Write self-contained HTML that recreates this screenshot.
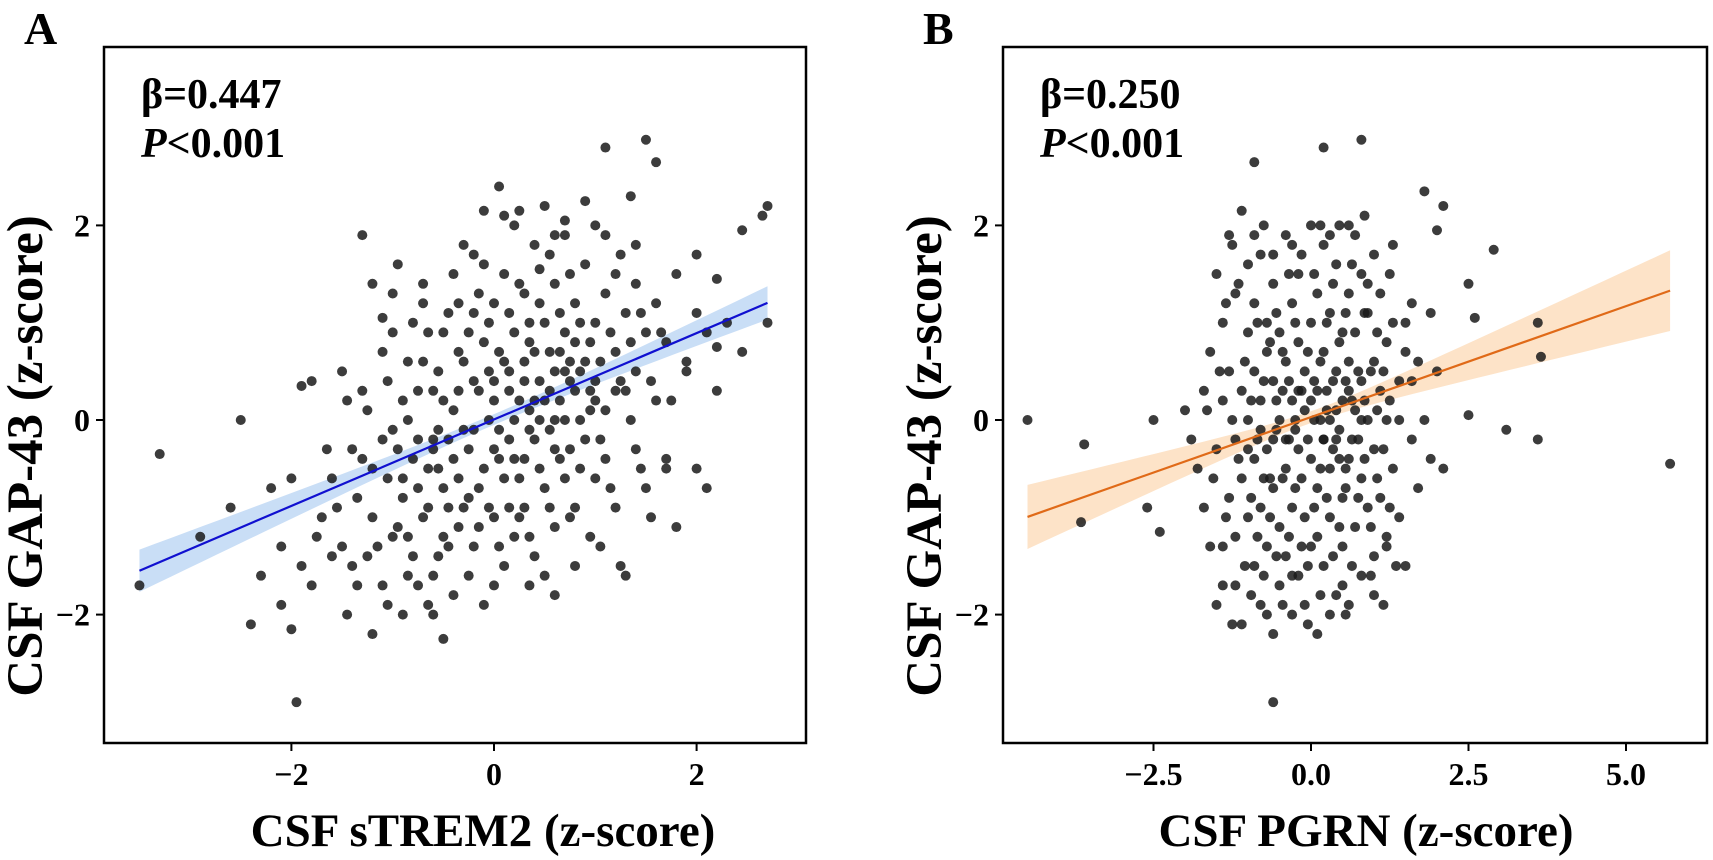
<!DOCTYPE html>
<html><head><meta charset="utf-8"><style>
html,body{margin:0;padding:0;background:#fff;}
svg{display:block;font-family:"Liberation Serif",serif;}
</style></head><body>
<svg id="chart" width="1713" height="860" viewBox="0 0 1713 860" xmlns="http://www.w3.org/2000/svg">
<g id="pa"></g>
<g id="pb"></g>
</svg>
<script>
const aX=[-3.5,-3.3,-2.9,-2.5,-2.6,-2.4,-2.0,-1.95,1.1,1.5,1.6,2.7,2.65,2.7,1.8,2.1,1.3,-0.5,-1.2,0.05,-0.1,2.45,
-1.9,-1.8,-1.7,-1.6,-1.5,-1.5,-1.4,-1.3,-1.3,-1.2,-1.2,-1.2,-1.1,-1.1,-1.0,-1.0,-1.0,-0.9,-0.9,-0.9,-0.8,-0.8,-0.8,-0.7,-0.7,-0.7,-0.6,-0.6,-0.6,-0.5,-0.5,-0.5,-0.4,-0.4,-0.4,-0.4,-0.3,-0.3,-0.3,-0.2,-0.2,-0.2,-0.2,-0.1,-0.1,-0.1,-0.1,0.0,0.0,0.0,0.0,0.1,0.1,0.1,0.1,0.2,0.2,0.2,0.2,0.3,0.3,0.3,0.3,0.4,0.4,0.4,0.4,0.5,0.5,0.5,0.5,0.6,0.6,0.6,0.6,0.7,0.7,0.7,0.7,0.8,0.8,0.8,0.8,0.9,0.9,0.9,1.0,1.0,1.0,1.0,1.1,1.1,1.1,1.2,1.2,1.2,1.3,1.3,1.4,1.4,1.4,1.5,1.5,1.6,1.6,1.7,1.7,1.8,1.9,2.0,2.0,2.1,2.2,2.3,
-0.85,-0.65,-0.45,-0.35,-0.15,0.05,0.15,0.25,0.35,0.45,0.55,0.65,0.75,0.85,0.95,-1.05,-0.75,-0.55,-0.25,-0.05,0.15,0.35,0.55,0.75,
-1.6,-2.1,-2.2,-1.9,-1.8,-2.0,-2.3,-2.1,-1.4,-1.45,-0.85,-0.65,0.35,0.6,1.05,1.25,1.55,1.7,2.0,2.2,2.2,-0.95,-1.1,-0.35,0.45,0.9,1.35,0.25,0.7,1.9,2.45];
const aY=[-1.7,-0.35,-1.2,0.0,-0.9,-2.1,-2.15,-2.9,2.8,2.88,2.65,2.2,2.1,1.0,-1.1,-0.7,-1.6,-2.25,-2.2,2.4,2.15,1.95,
-1.5,-1.7,-1.0,-0.6,0.5,-1.3,-0.3,1.9,0.3,-0.5,-1.0,1.4,-1.7,0.7,-0.1,-1.2,1.3,0.2,-0.8,-2.0,1.0,-0.4,-1.4,0.6,-1.0,1.2,-0.2,0.3,-1.6,0.9,-0.7,-1.2,1.5,0.1,-0.4,-1.8,0.6,-0.9,1.8,-0.1,0.4,-1.3,1.1,0.8,-0.5,-1.9,1.6,0.2,-0.3,1.2,-1.0,0.6,-0.6,1.5,-1.5,0.0,0.9,-1.2,2.0,0.4,-0.4,1.3,-0.9,0.7,-0.2,1.8,-1.4,0.2,1.0,-0.7,2.2,0.5,-0.3,1.4,-1.1,0.0,0.9,-0.6,1.9,0.3,1.2,-0.9,-1.5,0.6,-0.2,1.6,0.4,1.0,-0.6,2.0,0.1,1.3,-0.4,0.7,1.5,-0.9,0.3,1.1,0.5,-0.3,1.8,0.9,-0.7,1.2,0.2,0.8,-0.4,1.5,0.6,1.7,-0.5,0.9,0.3,1.0,
0.0,-0.5,-0.9,0.3,-0.7,-0.1,0.3,-0.6,0.1,0.4,-0.1,0.2,0.4,0.0,0.3,-0.6,-0.2,-0.1,-0.3,0.5,-0.2,0.8,0.7,-0.3,
-1.4,-1.3,-0.7,0.35,0.4,-0.6,-1.6,-1.9,-1.5,-2.0,-1.6,-1.9,-1.7,-1.8,-1.3,-1.5,-1.0,-0.5,1.1,1.45,0.75,1.6,1.05,1.2,1.55,2.25,2.3,2.15,2.05,0.5,0.7];
const aX2=[-1.35,-1.25,-1.15,-1.05,-0.95,-0.95,-0.85,-0.85,-0.75,-0.75,-0.75,-0.65,-0.65,-0.55,-0.55,-0.55,-0.45,-0.45,-0.45,-0.35,-0.35,-0.35,-0.25,-0.25,-0.25,-0.15,-0.15,-0.15,-0.05,-0.05,-0.05,0.05,0.05,0.05,0.15,0.15,0.15,0.25,0.25,0.25,0.35,0.35,0.35,0.45,0.45,0.45,0.55,0.55,0.55,0.65,0.65,0.65,0.75,0.75,0.75,0.85,0.85,0.85,0.95,0.95,0.95,1.05,1.05,1.15,1.15,1.25,1.25,1.35,1.35,1.45,1.45,1.55,1.65,1.75,-1.55,-1.45,-1.35,-1.65,-1.75,-1.25,-1.05,-0.6,0.0,0.5,-1.0,-0.7,-0.2,0.1,0.6,1.1,1.4,-0.9,-0.5,0.0,0.2,0.4,0.6,0.8,-0.3,-0.6,0.3,0.7,1.0,1.2,-1.1,-1.3];
const aY2=[-0.8,0.1,-1.3,0.4,-0.3,-1.1,0.6,-1.2,0.3,-0.7,-1.7,0.9,-0.9,0.5,-0.5,-1.4,1.1,-0.2,-1.3,0.7,-0.6,-1.1,0.9,-0.8,-1.6,0.3,1.3,-1.1,0.0,-0.9,1.0,0.7,-0.4,-1.3,1.1,-0.9,0.5,0.2,1.4,-1.0,-0.1,1.0,-1.2,0.0,-0.5,1.2,0.3,-0.9,1.7,0.7,-0.4,1.1,0.6,-1.0,1.5,0.5,-0.5,1.0,0.1,0.8,-1.2,0.6,-0.2,0.9,-0.7,0.4,1.7,0.0,0.8,1.1,-0.5,0.4,0.9,0.2,-0.9,0.2,-1.7,-0.3,-1.2,-1.4,-1.9,-2.0,-1.7,-1.6,0.9,1.4,1.7,2.1,1.9,1.9,1.4,-0.6,0.2,0.4,-0.4,0.2,0.0,0.8,-0.1,-0.3,0.6,0.5,0.2,0.3,-0.2,-0.4];
const aFitX=[-3.5,2.7];
const aSlope=0.444, aIntercept=0.005;
const aTicksX=[-2,0,2], aTickLabelsX=["\u22122","0","2"];
const yTicks=[-2,0,2], yTickLabels=["\u22122","0","2"];

const bX=[-4.5,-3.6,-3.65,-2.5,-2.4,-2.6,5.7,3.6,3.65,3.6,3.1,2.5,2.6,2.9,2.5,-0.9,0.2,0.8,-0.6,1.8,2.1,2.0,-1.1,
-1.6,-1.6,-1.5,-1.5,-1.4,-1.4,-1.4,-1.3,-1.3,-1.3,-1.2,-1.2,-1.2,-1.1,-1.1,-1.1,-1.0,-1.0,-1.0,-1.0,-0.9,-0.9,-0.9,-0.9,-0.8,-0.8,-0.8,-0.8,-0.7,-0.7,-0.7,-0.7,-0.6,-0.6,-0.6,-0.6,-0.5,-0.5,-0.5,-0.5,-0.4,-0.4,-0.4,-0.4,-0.3,-0.3,-0.3,-0.3,-0.2,-0.2,-0.2,-0.2,-0.1,-0.1,-0.1,-0.1,0.0,0.0,0.0,0.0,0.1,0.1,0.1,0.1,0.2,0.2,0.2,0.2,0.3,0.3,0.3,0.3,0.4,0.4,0.4,0.4,0.5,0.5,0.5,0.5,0.6,0.6,0.6,0.6,0.7,0.7,0.7,0.7,0.8,0.8,0.8,0.8,0.9,0.9,0.9,1.0,1.0,1.0,1.0,1.1,1.1,1.1,1.2,1.2,1.2,1.3,1.3,1.3,1.4,1.4,1.5,1.5,1.6,1.6,1.7,1.7,1.8,1.9,1.9,2.0,2.1,
-1.7,-1.7,-1.8,-1.9,-2.0,-1.5,-1.25,-0.95,-0.75,-0.55,-0.35,-0.15,0.05,0.25,0.45,0.65,0.85,1.05,-0.45,-0.25,0.15,0.35,0.55,0.75,-0.65,-0.85,1.15,0.95,1.35,0.55,0.15,0.45,0.85,1.25,-1.25,-0.05];
const bY=[0.0,-0.25,-1.05,0.0,-1.15,-0.9,-0.45,1.0,0.65,-0.2,-0.1,0.05,1.05,1.75,1.4,2.65,2.8,2.88,-2.9,2.35,2.2,1.95,2.15,
0.7,-1.3,-0.3,1.5,0.2,-1.7,1.0,-0.8,1.9,0.5,-0.2,-1.2,1.3,0.3,-2.1,-0.6,0.9,-1.0,1.6,0.0,-1.5,0.5,-0.4,1.2,-0.9,0.2,-1.9,1.7,0.7,-0.3,-1.3,1.0,-0.7,0.4,-2.2,1.4,0.0,-1.1,0.9,-1.7,0.6,-0.5,1.9,-1.4,0.2,-0.9,1.2,-2.0,0.8,-0.3,-1.6,1.5,0.1,-1.0,0.5,-1.9,-0.4,1.0,2.0,-1.3,0.3,-0.7,1.3,-2.2,-0.2,0.7,-1.5,1.8,0.0,-1.0,1.1,-0.5,0.5,-1.8,1.6,-0.2,0.9,-0.8,0.2,-1.3,1.3,-0.4,0.6,-1.9,0.1,1.9,-1.1,0.9,-0.6,0.4,1.5,-1.6,0.0,-0.9,1.1,0.6,-1.4,1.7,-0.3,0.3,-0.8,1.3,0.8,-1.2,0.0,-0.5,1.0,1.8,0.4,-1.0,0.7,-1.5,-0.2,1.2,0.6,-0.7,0.0,1.1,-0.4,0.5,-0.5,
-0.9,0.3,-0.5,-0.2,0.1,-1.9,-2.1,-1.8,2.0,-0.1,-0.2,-0.6,0.4,0.3,-0.1,0.2,0.2,0.1,0.3,-0.1,0.0,-0.3,-0.5,-0.2,-0.6,-0.2,-1.9,-1.6,-1.5,-2.0,2.0,2.0,2.1,1.5,1.8,-2.1];
const bX2=[-1.25,-1.15,-1.05,-1.05,-0.95,-0.95,-0.85,-0.85,-0.75,-0.75,-0.75,-0.65,-0.65,-0.55,-0.55,-0.55,-0.45,-0.45,-0.45,-0.35,-0.35,-0.35,-0.25,-0.25,-0.25,-0.15,-0.15,-0.15,-0.05,-0.05,-0.05,0.05,0.05,0.05,0.15,0.15,0.15,0.25,0.25,0.25,0.35,0.35,0.35,0.45,0.45,0.45,0.55,0.55,0.55,0.65,0.65,0.65,0.75,0.75,0.85,0.85,0.95,0.95,1.05,1.05,1.15,1.15,1.25,1.25,-1.35,-1.45,-1.55,-1.65,-1.35,-1.15,-0.9,-0.6,-0.3,0.3,0.6,0.9,1.4,1.5,1.6,-0.2,0.0,0.2,0.4,0.6,0.8,-0.4,-0.6,-0.8,-1.0,0.1,-0.3,0.5,-0.7,0.3,-1.2,1.0,-1.4,1.2];
const bY2=[0.0,-0.4,0.6,-1.5,0.2,-0.8,1.0,-1.2,0.4,-0.6,-1.6,0.8,-1.0,0.2,-1.4,1.1,-0.6,0.7,-1.9,0.4,-1.2,1.5,0.0,-0.7,1.0,0.3,-1.3,1.7,-0.2,0.7,-1.5,0.0,-0.9,1.5,0.6,-0.5,-1.8,1.0,-0.8,0.1,0.4,-1.4,1.4,-0.4,0.8,-1.1,0.4,1.1,-0.7,-0.2,1.6,-1.5,0.5,-0.8,1.1,-0.4,0.5,-1.1,0.9,-0.6,0.5,-0.3,0.2,-0.9,-1.0,0.5,-0.6,0.1,1.2,1.4,1.9,1.7,1.8,1.9,2.0,1.4,0.0,1.0,0.4,0.3,0.2,-0.2,0.1,0.3,0.0,-0.2,-0.2,-0.1,-0.3,-1.2,-1.6,-1.7,-2.0,-2.0,-1.7,-1.8,-1.3,-1.3];
const bFitX=[-4.5,5.7];
const bSlope=0.228, bIntercept=0.03;
const bTicksX=[-2.5,0,2.5,5], bTickLabelsX=["\u22122.5","0.0","2.5","5.0"];

const NS="http://www.w3.org/2000/svg";
function el(tag,attrs,parent,txt){const e=document.createElementNS(NS,tag);for(const k in attrs)e.setAttribute(k,attrs[k]);if(txt!==undefined)e.textContent=txt;parent.appendChild(e);return e;}

function panel(g,cfg){
  const L=cfg.left,R=cfg.right,T=47,B=743;
  const xs=v=>cfg.x0px+(v-cfg.x0)*cfg.pxu;
  const ys=v=>420-v*97.3;
  const n=40,up=[],lo=[];
  const xm=cfg.xmean;
  for(let i=0;i<=n;i++){const xv=cfg.fitX[0]+(cfg.fitX[1]-cfg.fitX[0])*i/n;const yv=cfg.slope*xv+cfg.icpt;const hw=Math.sqrt(cfg.se0*cfg.se0+cfg.se1*cfg.se1*(xv-xm)*(xv-xm));up.push([xs(xv),ys(yv+hw)]);lo.unshift([xs(xv),ys(yv-hw)]);}
  const band=el('polygon',{points:up.concat(lo).map(p=>p.join(',')).join(' '),fill:cfg.bandColor,stroke:'none'},g);
  
  
  const pts=el('g',{},g);
  
  
  for(let i=0;i<cfg.X.length;i++){
    const c=el('circle',{cx:xs(cfg.X[i]),cy:ys(cfg.Y[i]),r:5,fill:'#1a1a1a','fill-opacity':0.85},pts);
    
    
  }
  const ln=el('line',{x1:xs(cfg.fitX[0]),y1:ys(cfg.slope*cfg.fitX[0]+cfg.icpt),x2:xs(cfg.fitX[1]),y2:ys(cfg.slope*cfg.fitX[1]+cfg.icpt),stroke:cfg.lineColor,'stroke-width':2.2},g);
  
  
  const fr=el('rect',{x:L,y:T,width:R-L,height:B-T,fill:'none',stroke:'#000','stroke-width':2.5},g);
  
  
  cfg.ticksX.forEach((t,i)=>{
    el('line',{x1:xs(t),x2:xs(t),y1:B,y2:B+8,stroke:'#000','stroke-width':2},g);
    const tx=el('text',{x:xs(t),y:B+42,'font-size':32,'font-weight':'bold','text-anchor':'middle'},g,cfg.tickLabelsX[i]);
    
    
  });
  yTicks.forEach((t,i)=>{
    el('line',{x1:L-8,x2:L,y1:ys(t),y2:ys(t),stroke:'#000','stroke-width':2},g);
    const ty=el('text',{x:L-14,y:ys(t)+11,'font-size':32,'font-weight':'bold','text-anchor':'end'},g,yTickLabels[i]);
    
    
  });
  const xt=el('text',{x:cfg.xTitleX,y:846,'font-size':47,'font-weight':'bold','text-anchor':'middle'},g,cfg.xTitle);
  
  
  const yt=el('text',{x:0,y:0,'font-size':51,'font-weight':'bold','text-anchor':'middle',transform:`translate(${L-62},456) rotate(-90)`},g,'CSF GAP-43 (z-score)');
  
  
  const lb=el('text',{x:L-80,y:44,'font-size':46,'font-weight':'bold'},g,cfg.letter);
  
  
  const bt=el('text',{x:L+37,y:108,'font-size':42,'font-weight':'bold'},g,cfg.beta);
  
  
  const pt=el('text',{x:L+37,y:157,'font-size':42,'font-weight':'bold'},g);
  
  
  el('tspan',{'font-style':'italic'},pt,'P');
  el('tspan',{},pt,'<0.001');
}
panel(document.getElementById('pa'),{left:104,right:806,x0px:494,x0:0,pxu:101.3,X:aX.concat(aX2),Y:aY.concat(aY2),fitX:aFitX,slope:aSlope,icpt:aIntercept,xmean:0,se0:0.055,se1:0.06,bandColor:'#c9def6',lineColor:'#1010d0',ticksX:aTicksX,tickLabelsX:aTickLabelsX,xTitle:'CSF sTREM2 (z-score)',xTitleX:483,letter:'A',beta:'\u03b2=0.447'});
panel(document.getElementById('pb'),{left:1003,right:1707,x0px:1311,x0:0,pxu:63,X:bX.concat(bX2),Y:bY.concat(bY2),fitX:bFitX,slope:bSlope,icpt:bIntercept,xmean:0,se0:0.06,se1:0.072,bandColor:'#fde3c8',lineColor:'#e06a18',ticksX:bTicksX,tickLabelsX:bTickLabelsX,xTitle:'CSF PGRN (z-score)',xTitleX:1366,letter:'B',beta:'\u03b2=0.250'});
</script>
</body></html>
